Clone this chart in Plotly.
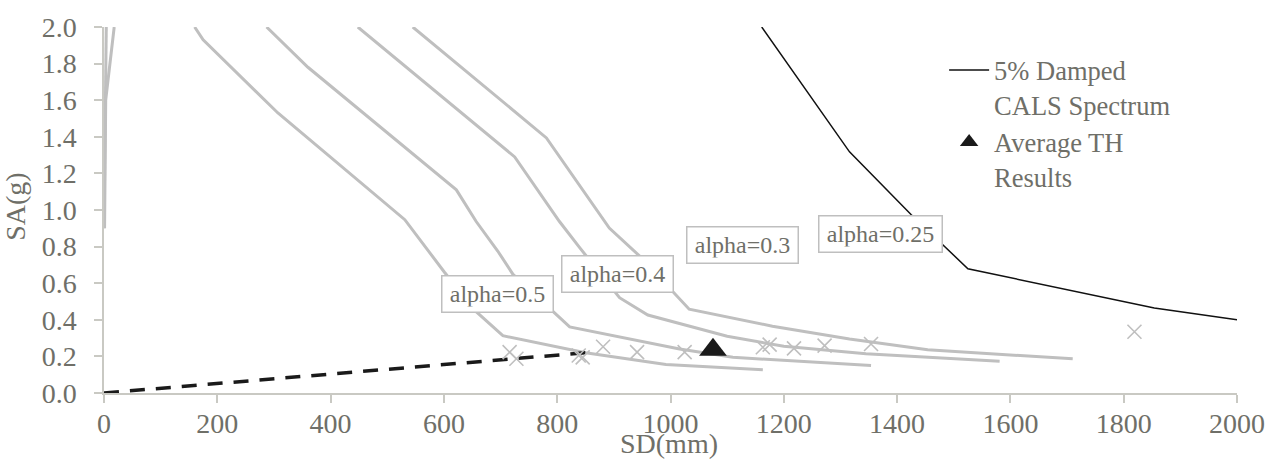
import plotly.graph_objects as go

# ---- data ----
alpha05_sd = [160, 175, 307, 531, 601, 655, 704, 850, 992, 1163]
alpha05_sa = [2.0, 1.93, 1.53, 0.947, 0.66, 0.45, 0.313, 0.22, 0.156, 0.127]

alpha04_sd = [287, 360, 622, 657, 695, 722, 822, 1016, 1110, 1316, 1354]
alpha04_sa = [2.0, 1.78, 1.11, 0.937, 0.776, 0.648, 0.361, 0.241, 0.195, 0.160, 0.150]

alpha03_sd = [448, 725, 804, 840, 910, 960, 1100, 1200, 1345, 1450, 1581]
alpha03_sa = [2.0, 1.29, 0.937, 0.793, 0.521, 0.426, 0.31, 0.255, 0.214, 0.195, 0.174]

alpha025_sd = [545, 781, 892, 946, 1033, 1180, 1316, 1454, 1710]
alpha025_sa = [2.0, 1.394, 0.901, 0.747, 0.458, 0.365, 0.295, 0.236, 0.187]

# steep short-period branches near SD = 0
steep1_sd = [0, 4]
steep1_sa = [0.9, 2.0]
steep2_sd = [1, 3, 18]
steep2_sa = [0.9, 1.6, 2.0]

cals_sd = [1161, 1316, 1425, 1525, 1854, 2000]
cals_sa = [2.0, 1.318, 0.974, 0.679, 0.464, 0.40]

elastic_sd = [0, 857]
elastic_sa = [0.0, 0.222]

th_sd = [716, 728, 838, 845, 881, 941, 1025, 1163, 1175, 1218, 1272, 1354, 1819]
th_sa = [0.223, 0.187, 0.205, 0.195, 0.253, 0.223, 0.223, 0.25, 0.264, 0.244, 0.259, 0.268, 0.335]

avg_sd = [1075]
avg_sa = [0.236]

label_text = ["alpha=0.5", "alpha=0.4", "alpha=0.3", "alpha=0.25"]
label_sd = [694, 906, 1127, 1371]
label_sa = [0.54, 0.651, 0.808, 0.87]

x_ticks = list(range(0, 2001, 200))
y_ticks = [round(0.2 * i, 1) for i in range(11)]

# ---- styles ----
FONT = "Liberation Serif, Times New Roman, serif"
TXT = "#6f6f68"
AX = "#c9c9c3"
GRAY = "#bfbfbf"
LABEL_BOX_W = {"alpha=0.5": 100, "alpha=0.4": 100, "alpha=0.3": 100, "alpha=0.25": 112}

fig = go.Figure()

for sd, sa in [(alpha05_sd, alpha05_sa), (alpha04_sd, alpha04_sa),
               (alpha03_sd, alpha03_sa), (alpha025_sd, alpha025_sa),
               (steep1_sd, steep1_sa), (steep2_sd, steep2_sa)]:
    fig.add_trace(go.Scatter(x=sd, y=sa, mode="lines",
                             line=dict(color=GRAY, width=3),
                             showlegend=False, hoverinfo="skip"))

fig.add_trace(go.Scatter(x=elastic_sd, y=elastic_sa, mode="lines",
                         line=dict(color="#1a1a1a", width=3.5, dash="15px,11px"),
                         showlegend=False))

fig.add_trace(go.Scatter(x=th_sd, y=th_sa, mode="markers",
                         marker=dict(symbol="x-thin", size=14,
                                     line=dict(color=GRAY, width=1.6)),
                         showlegend=False))

fig.add_trace(go.Scatter(x=cals_sd, y=cals_sa, mode="lines",
                         line=dict(color="#111111", width=1.5),
                         name="5% Damped<br>CALS Spectrum"))

fig.add_trace(go.Scatter(x=avg_sd, y=avg_sa, mode="markers",
                         marker=dict(symbol="triangle-up", size=24, color="#1a1a1a"),
                         name="Average TH<br>Results"))

for t, xv, yv in zip(label_text, label_sd, label_sa):
    fig.add_annotation(x=xv, y=yv, text=t, showarrow=False,
                       font=dict(family=FONT, size=24, color=TXT),
                       width=LABEL_BOX_W[t], height=25,
                       bgcolor="white", bordercolor=GRAY, borderwidth=1.5,
                       borderpad=5)

# axis titles
fig.add_annotation(text="SD(mm)", xref="paper", yref="paper",
                   x=(670 - 104) / 1136, y=-(444 - 393) / 369,
                   xanchor="center", yanchor="middle", showarrow=False,
                   font=dict(family=FONT, size=28, color=TXT))
fig.add_annotation(text="SA(g)", xref="paper", yref="paper", textangle=-90,
                   x=-(104 - 15) / 1136, y=(393 - 205) / 369,
                   xanchor="center", yanchor="middle", showarrow=False,
                   font=dict(family=FONT, size=28, color=TXT))

fig.update_layout(
    width=1277, height=461,
    margin=dict(l=104, r=37, t=24, b=68),
    paper_bgcolor="white", plot_bgcolor="white",
    font=dict(family=FONT, size=28, color=TXT),
    legend=dict(x=0.7415, y=0.947, xanchor="left", yanchor="top",
                bgcolor="rgba(0,0,0,0)", font=dict(size=26.5, color=TXT),
                valign="top", tracegroupgap=0, itemwidth=40),
    xaxis=dict(range=[0, 2000], tickvals=x_ticks, showgrid=False, zeroline=False,
               showline=True, linecolor=AX, linewidth=1.5,
               ticks="outside", ticklen=8, tickcolor=AX, tickwidth=1.5,
               ticklabelstandoff=-3, tickfont=dict(size=28)),
    yaxis=dict(range=[0, 2.0], tickvals=y_ticks, tickformat=".1f", showgrid=False,
               zeroline=False, showline=True, linecolor=AX, linewidth=1.5,
               ticks="outside", ticklen=8, tickcolor=AX, tickwidth=1.5,
               ticklabelstandoff=12, tickfont=dict(size=28)),
)

fig.write_html("out.html", post_script="document.body.style.margin='0';",
               config={"displayModeBar": False})
